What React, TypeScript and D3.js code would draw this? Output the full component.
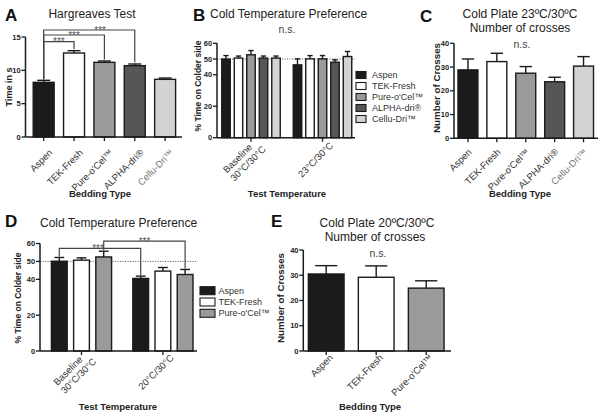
import React from "react";
import * as d3 from "d3";

const FONT = "'Liberation Sans', Arial, Helvetica, sans-serif";

// ---------- data ----------
const beddingTypes = ["Aspen", "TEK-Fresh", "Pure-o'Cel™", "ALPHA-dri®", "Cellu-Dri™"];
const beddingColors = ["#1b1b1b", "#ffffff", "#9a9a9a", "#565656", "#d3d3d3"];

// A: Hargreaves
const hargreavesMean = [8.2, 12.6, 11.2, 10.7, 8.65];
const hargreavesSem = [0.3, 0.35, 0.2, 0.25, 0.2];
const hargreavesTicks = [0, 5, 10, 15];

// B: Cold temperature preference (5 beddings)
const tempGroupsB = ["Baseline|30°C/30°C", "23°C/30°C"];
const prefBaselineB = [50, 50.6, 52.7, 50.6, 50.6];
const prefBaselineSemB = [2.2, 1.3, 2.7, 1.3, 1.3];
const pref23B = [46.3, 50.1, 50.1, 48, 51.6];
const pref23SemB = [3.8, 2.1, 2.1, 1.5, 3.2];
const prefTicks = [0, 20, 40, 50, 60];

// C: Cold plate 23/30 crosses
const crossesC = [28.8, 32.3, 27.4, 23.8, 30.4];
const crossesSemC = [4.6, 3.5, 2.8, 1.9, 4.0];
const crossesTicks = [0, 10, 20, 30, 40];

// D: Cold temperature preference (3 beddings)
const tempGroupsD = ["Baseline|30°C/30°C", "20°C/30°C"];
const prefBaselineD = [50.1, 50.7, 52.5];
const prefBaselineSemD = [2.1, 1.3, 3.2];
const pref20D = [40.5, 44.6, 42.7];
const pref20SemD = [1.3, 2.0, 2.8];

// E: Cold plate 20/30 crosses
const crossesE = [30.5, 29.2, 24.9];
const crossesSemE = [3.3, 4.5, 2.9];

const AXIS = "#1a1a1a";

function YAxis({ x, y, ticks, fs = 7.5 }: any) {
  const [d0, d1] = y.domain();
  return (
    <g>
      <line x1={x} x2={x} y1={y(d1)} y2={y(d0)} stroke={AXIS} strokeWidth={1.5} />
      {ticks.map((t: number) => (
        <g key={t}>
          <line x1={x - 4} x2={x} y1={y(t)} y2={y(t)} stroke={AXIS} strokeWidth={1.3} />
          <text x={x - 4.8} y={y(t)} dy="0.35em" textAnchor="end" fontSize={fs} fontWeight="bold" fill="#222">
            {t}
          </text>
        </g>
      ))}
    </g>
  );
}

function XAxisLine({ x1, x2, y0, ticks }: any) {
  return (
    <g>
      <line x1={x1} x2={x2} y1={y0} y2={y0} stroke={AXIS} strokeWidth={1.5} />
      {ticks.map((t: number, i: number) => (
        <line key={i} x1={t} x2={t} y1={y0} y2={y0 + 4} stroke={AXIS} strokeWidth={1.3} />
      ))}
    </g>
  );
}

// end-anchored label rotated -45deg; multi-line labels are separated by "|"
function RotLabel({ x, y, text, fs = 9.5, fill = "#333" }: any) {
  const lines = text.split("|");
  const n = lines.length;
  const gap = 11;
  return (
    <text transform={`translate(${x},${y}) rotate(-45)`} textAnchor="end" fontSize={fs} fill={fill}>
      {lines.map((l: string, i: number) => {
        const yc = (i - (n - 1) / 2) * gap;
        const dx = n > 1 && i < n - 1 ? -8 : 0;
        return (
          <tspan key={i} x={dx} y={yc + 0.35 * fs}>
            {l}
          </tspan>
        );
      })}
    </text>
  );
}

function Bar({ x, w, v, s, y, fill }: any) {
  const y0 = y(0);
  const cx = x + w / 2;
  const cap = w * 0.62;
  return (
    <g>
      <line x1={cx} x2={cx} y1={y(v)} y2={y(v + s)} stroke={AXIS} strokeWidth={1.4} />
      <line x1={cx - cap / 2} x2={cx + cap / 2} y1={y(v + s)} y2={y(v + s)} stroke={AXIS} strokeWidth={1.4} />
      <rect x={x} y={y(v)} width={w} height={y0 - y(v)} fill={fill} stroke={AXIS} strokeWidth={1.4} />
    </g>
  );
}

function YTitle({ x, cy, text, fs }: any) {
  return (
    <text transform={`translate(${x},${cy}) rotate(-90)`} textAnchor="middle" fontSize={fs} fontWeight="bold" fill="#222">
      {text}
    </text>
  );
}

function Bracket({ x1, x2, yTop, yL, yR, star, starX }: any) {
  return (
    <g>
      <path d={`M${x1},${yL}V${yTop}H${x2}V${yR}`} fill="none" stroke="#444" strokeWidth={1.2} />
      <text x={starX} y={yTop + 3.6} textAnchor="middle" fontSize={10} fill="#555">
        {star}
      </text>
    </g>
  );
}

export default function App() {
  // ---------- Panel A ----------
  const yA = d3.scaleLinear().domain([0, 15]).range([137, 37]);
  const xA = d3.scaleBand().domain(beddingTypes).range([28.5, 180.3]).paddingInner(0.31).paddingOuter(0.155);
  const cA = (i: number) => (xA(beddingTypes[i]) as number) + xA.bandwidth() / 2;
  const topA = (i: number) => yA(hargreavesMean[i] + hargreavesSem[i]);
  const bracketsA = [
    { to: 1, level: 14.3, t: 0.5 },
    { to: 2, level: 15.3, t: 0.5 },
    { to: 3, level: 16.05, t: 0.62 },
  ];

  // ---------- Panel B ----------
  const yB = d3.scaleLinear().domain([0, 60]).range([137.7, 43.3]);
  const xB0 = d3.scaleBand().domain(tempGroupsB).range([215.25, 358.25]).padding(0);
  const xB1 = d3.scaleBand().domain(beddingTypes).range([0, xB0.bandwidth()]).paddingInner(0.32).paddingOuter(0.52);
  const valsB = [prefBaselineB, pref23B];
  const semsB = [prefBaselineSemB, pref23SemB];

  // ---------- Panel C ----------
  const yC = d3.scaleLinear().domain([0, 40]).range([138.3, 43.3]);
  const xC = d3.scaleBand().domain(beddingTypes).range([453.5, 598]).paddingInner(0.31).paddingOuter(0.155);

  // ---------- Panel D ----------
  const bedD = beddingTypes.slice(0, 3);
  const yD = d3.scaleLinear().domain([0, 60]).range([351, 243.5]);
  const xD0 = d3.scaleBand().domain(tempGroupsD).range([40.8, 203.6]).padding(0);
  const xD1 = d3.scaleBand().domain(bedD).range([0, xD0.bandwidth()]).paddingInner(0.29).paddingOuter(0.478);
  const valsD = [prefBaselineD, pref20D];
  const semsD = [prefBaselineSemD, pref20SemD];
  const cD = (g: number, i: number) => (xD0(tempGroupsD[g]) as number) + (xD1(bedD[i]) as number) + xD1.bandwidth() / 2;
  const topD = (g: number, i: number) => yD(valsD[g][i] + semsD[g][i]);

  // ---------- Panel E ----------
  const yE = d3.scaleLinear().domain([0, 40]).range([351, 250]);
  const xE = d3.scaleBand().domain(bedD).range([301.2, 451.2]).paddingInner(0.286).paddingOuter(0.143);

  return (
    <svg width={602} height={416} viewBox="0 0 602 416" style={{ display: "block", position: "absolute", left: 0, top: 0 }} fontFamily={FONT}>
      <rect width={602} height={416} fill="#ffffff" />

      {/* ===== A ===== */}
      <text x={5} y={21} fontSize={17} fontWeight="bold" fill="#111">A</text>
      <text x={92} y={18} fontSize={12} textAnchor="middle" fill="#222">Hargreaves Test</text>
      <YTitle x={11.5} cy={87} text="Time in s" fs={9} />
      {beddingTypes.map((b, i) => (
        <Bar key={b} x={xA(b)} w={xA.bandwidth()} v={hargreavesMean[i]} s={hargreavesSem[i]} y={yA} fill={beddingColors[i]} />
      ))}
      <YAxis x={25.5} y={yA} ticks={hargreavesTicks} />
      <XAxisLine x1={25.5} x2={182} y0={yA(0)} ticks={beddingTypes.map((_, i) => cA(i))} />
      {[...bracketsA].reverse().map((br, k) => (
        <Bracket key={k} x1={cA(0)} x2={cA(br.to)} yTop={yA(br.level)} yL={topA(0) - 1} yR={topA(br.to) - 1.5}
          star="***" starX={cA(0) + (cA(br.to) - cA(0)) * br.t} />
      ))}
      {beddingTypes.map((b, i) => (
        <RotLabel key={b} x={cA(i) + 7} y={yA(0) + 14} text={b} fill={i === 4 ? "#777" : "#333"} />
      ))}
      <text x={100} y={197} textAnchor="middle" fontSize={9.5} fontWeight="bold" fill="#222">Bedding Type</text>

      {/* ===== B ===== */}
      <text x={193} y={21} fontSize={17} fontWeight="bold" fill="#111">B</text>
      <text x={210} y={18} fontSize={12} fill="#222">Cold Temperature Preference</text>
      <YTitle x={200.5} cy={86} text="% Time on Colder side" fs={8.5} />
      <line x1={217} x2={355} y1={yB(50)} y2={yB(50)} stroke="#666" strokeWidth={1} strokeDasharray="1.2,1.3" />
      {tempGroupsB.map((g, gi) =>
        beddingTypes.map((b, i) => (
          <Bar key={g + b} x={(xB0(g) as number) + (xB1(b) as number)} w={xB1.bandwidth()} v={valsB[gi][i]} s={semsB[gi][i]} y={yB} fill={beddingColors[i]} />
        ))
      )}
      <YAxis x={217} y={yB} ticks={prefTicks} fs={7.5} />
      <XAxisLine x1={217} x2={355} y0={yB(0)} ticks={tempGroupsB.map((g) => (xB0(g) as number) + xB0.bandwidth() / 2)} />
      {tempGroupsB.map((g) => (
        <RotLabel key={g} x={(xB0(g) as number) + xB0.bandwidth() / 2 + 9} y={yB(0) + 6} text={g} />
      ))}
      <text x={287} y={33} textAnchor="middle" fontSize={10.5} fill="#444">n.s.</text>
      <text x={287} y={197} textAnchor="middle" fontSize={9.5} fontWeight="bold" fill="#222">Test Temperature</text>
      {beddingTypes.map((b, i) => (
        <g key={b}>
          <rect x={356} y={75 + i * 11 - 3.5} width={10} height={7} fill={beddingColors[i]} stroke={AXIS} strokeWidth={1.1} />
          <text x={372} y={75 + i * 11} dy="0.35em" fontSize={9} fill="#333">{b}</text>
        </g>
      ))}

      {/* ===== C ===== */}
      <text x={420} y={22} fontSize={17} fontWeight="bold" fill="#111">C</text>
      <text x={520} y={18.3} textAnchor="middle" fontSize={12} fill="#222">Cold Plate 23ºC/30ºC</text>
      <text x={520} y={31.7} textAnchor="middle" fontSize={12} fill="#222">Number of crosses</text>
      <YTitle x={439.5} cy={88} text="Number of Crosses" fs={9.75} />
      {beddingTypes.map((b, i) => (
        <Bar key={b} x={xC(b)} w={xC.bandwidth()} v={crossesC[i]} s={crossesSemC[i]} y={yC} fill={beddingColors[i]} />
      ))}
      <YAxis x={454} y={yC} ticks={crossesTicks} />
      <XAxisLine x1={454} x2={598} y0={yC(0)} ticks={beddingTypes.map((b) => (xC(b) as number) + xC.bandwidth() / 2)} />
      {beddingTypes.map((b, i) => (
        <RotLabel key={b} x={(xC(b) as number) + xC.bandwidth() / 2 + 2} y={yC(0) + 12} text={b} fill={i === 4 ? "#777" : "#333"} />
      ))}
      <text x={522} y={48} textAnchor="middle" fontSize={10.5} fill="#444">n.s.</text>
      <text x={520} y={197} textAnchor="middle" fontSize={9.5} fontWeight="bold" fill="#222">Bedding Type</text>

      {/* ===== D ===== */}
      <text x={5} y={227} fontSize={17} fontWeight="bold" fill="#111">D</text>
      <text x={40} y={226.5} fontSize={12} fill="#222">Cold Temperature Preference</text>
      <YTitle x={21} cy={298} text="% Time on Colder side" fs={8.5} />
      <line x1={40} x2={197} y1={yD(50)} y2={yD(50)} stroke="#666" strokeWidth={1} strokeDasharray="1.2,1.3" />
      {tempGroupsD.map((g, gi) =>
        bedD.map((b, i) => (
          <Bar key={g + b} x={(xD0(g) as number) + (xD1(b) as number)} w={xD1.bandwidth()} v={valsD[gi][i]} s={semsD[gi][i]} y={yD} fill={beddingColors[i]} />
        ))
      )}
      <YAxis x={40} y={yD} ticks={prefTicks} />
      <XAxisLine x1={40} x2={197} y0={yD(0)} ticks={tempGroupsD.map((g) => (xD0(g) as number) + xD0.bandwidth() / 2)} />
      <Bracket x1={cD(0, 0)} x2={cD(1, 0)} yTop={yD(57.3)} yL={topD(0, 0) - 1} yR={topD(1, 0) - 1} star="***" starX={98} />
      <Bracket x1={cD(0, 2)} x2={cD(1, 2)} yTop={yD(61.3)} yL={topD(0, 2) - 1} yR={topD(1, 2) - 1} star="***" starX={144.5} />
      {tempGroupsD.map((g) => (
        <RotLabel key={g} x={(xD0(g) as number) + xD0.bandwidth() / 2 + 9} y={yD(0) + 5} text={g} />
      ))}
      <text x={118} y={410} textAnchor="middle" fontSize={9.5} fontWeight="bold" fill="#222">Test Temperature</text>
      {bedD.map((b, i) => (
        <g key={b}>
          <rect x={200} y={290.7 + i * 11.3 - 4} width={15} height={8} fill={beddingColors[i]} stroke={AXIS} strokeWidth={1.1} />
          <text x={218.5} y={290.7 + i * 11.3} dy="0.35em" fontSize={9} fill="#333">{b}</text>
        </g>
      ))}

      {/* ===== E ===== */}
      <text x={271} y={227} fontSize={17} fontWeight="bold" fill="#111">E</text>
      <text x={377} y={226.7} textAnchor="middle" fontSize={12} fill="#222">Cold Plate 20ºC/30ºC</text>
      <text x={375} y={240.7} textAnchor="middle" fontSize={12} fill="#222">Number of crosses</text>
      <YTitle x={283.5} cy={298} text="Number of Crosses" fs={9.75} />
      {bedD.map((b, i) => (
        <Bar key={b} x={xE(b)} w={xE.bandwidth()} v={crossesE[i]} s={crossesSemE[i]} y={yE} fill={beddingColors[i]} />
      ))}
      <YAxis x={303.3} y={yE} ticks={crossesTicks} />
      <XAxisLine x1={303.3} x2={451} y0={yE(0)} ticks={bedD.map((b) => (xE(b) as number) + xE.bandwidth() / 2)} />
      {bedD.map((b) => (
        <RotLabel key={b} x={(xE(b) as number) + xE.bandwidth() / 2 + 5} y={yE(0) + 5} text={b} />
      ))}
      <text x={378} y={256.5} textAnchor="middle" fontSize={10.5} fill="#444">n.s.</text>
      <text x={370} y={410} textAnchor="middle" fontSize={9.5} fontWeight="bold" fill="#222">Bedding Type</text>
    </svg>
  );
}
